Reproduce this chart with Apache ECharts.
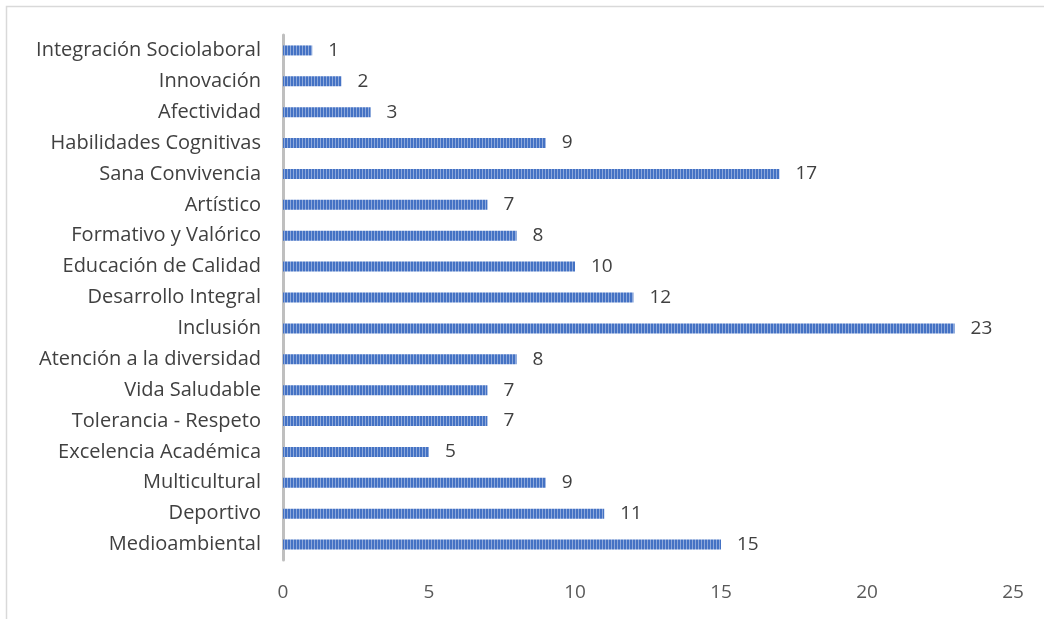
<!DOCTYPE html>
<html><head><meta charset="utf-8">
<script src="https://cdn.jsdelivr.net/npm/echarts@6/dist/echarts.min.js"></script>
<style>html,body{margin:0;padding:0;background:#fff}#c{width:1044px;height:619px}</style>
</head><body><div id="c"></div>
<script>
const categories = ["Integración Sociolaboral","Innovación","Afectividad","Habilidades Cognitivas","Sana Convivencia","Artístico","Formativo y Valórico","Educación de Calidad","Desarrollo Integral","Inclusión","Atención a la diversidad","Vida Saludable","Tolerancia - Respeto","Excelencia Académica","Multicultural","Deportivo","Medioambiental"];
const values = [1,2,3,9,17,7,8,10,12,23,8,7,7,5,9,11,15];
const xTicks = [0,5,10,15,20,25];

const pc = document.createElement('canvas');
pc.width = 3; pc.height = 4;
const pctx = pc.getContext('2d');
pctx.fillStyle = '#4472C4'; pctx.fillRect(0,0,2,4);
pctx.fillStyle = '#8EA9DB'; pctx.fillRect(2,0,1,4);

const chart = echarts.init(document.getElementById('c'), null, {renderer:'canvas'});
const font = "'Open Sans', 'Liberation Sans', sans-serif";
chart.setOption({
  animation:false,
  graphic:[{type:'rect', shape:{x:6.5,y:6.5,width:1200,height:800}, style:{fill:'none', stroke:'#d9d9d9', lineWidth:1.5}, silent:true}],
  grid:{left:283, right:31, top:35, bottom:59},
  xAxis:{type:'value', min:xTicks[0], max:xTicks[xTicks.length-1], interval:5,
    axisLine:{show:false}, axisTick:{show:false}, splitLine:{show:false},
    axisLabel:{color:'#595959', fontSize:19, fontFamily:font, margin:23}},
  yAxis:{type:'category', data:categories, inverse:true,
    axisLine:{show:true, lineStyle:{color:'#bfbfbf', width:3}}, axisTick:{show:false},
    axisLabel:{color:'#404040', fontSize:20, fontFamily:font, margin:22}},
  series:[{type:'bar', data:values, barWidth:10,
    itemStyle:{color:{image:pc, repeat:'repeat'}},
    label:{show:true, position:'right', distance:16, color:'#404040', fontSize:19, fontFamily:font}}]
});
</script></body></html>
